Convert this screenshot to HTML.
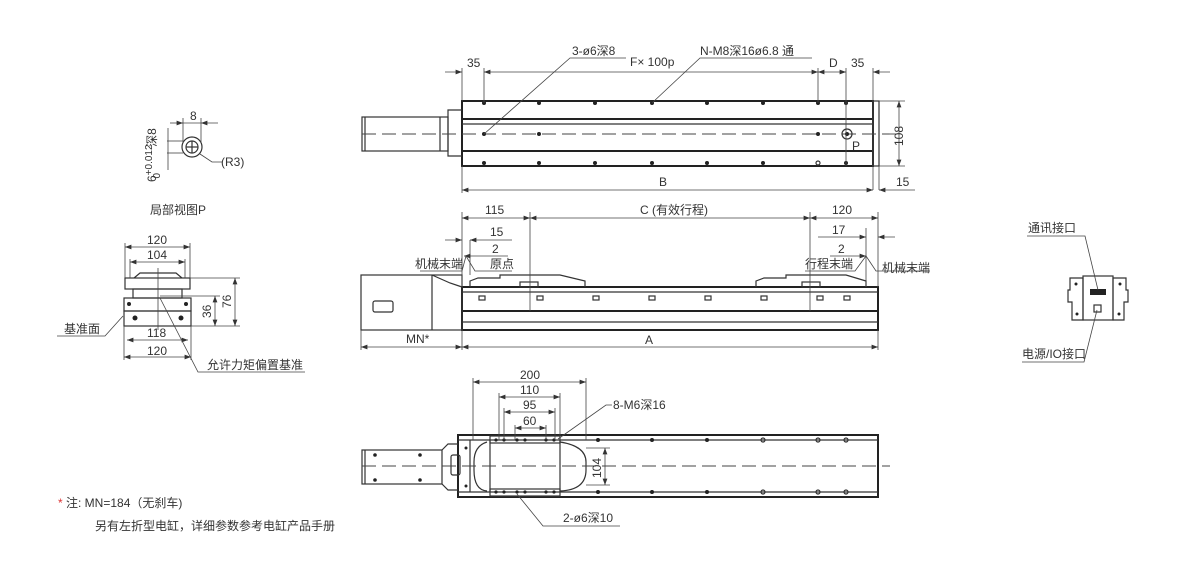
<!DOCTYPE html>
<html><head><meta charset="utf-8"><style>
html,body{margin:0;padding:0;background:#fff}
svg{display:block}
text{font-family:"Liberation Sans","Noto Sans CJK SC",sans-serif;fill:#333;font-size:12px}
.l{stroke:#333;stroke-width:1.2;fill:none}
.t{stroke:#222;stroke-width:2;fill:none}
.d{stroke:#444;stroke-width:.8;fill:none}
.c{stroke:#444;stroke-width:.9;stroke-dasharray:14 6;fill:none}
.h{fill:#222}
</style></head><body>
<svg width="1200" height="563" viewBox="0 0 1200 563" xmlns="http://www.w3.org/2000/svg">
<defs><marker id="a" viewBox="0 0 8 6" refX="8" refY="3" markerWidth="8" markerHeight="6" orient="auto-start-reverse"><path d="M0,0 L8,3 L0,6 z" fill="#333"/></marker></defs>

<!-- ===== TOP VIEW ===== -->
<rect x="462" y="101" width="411" height="65" class="t"/>
<rect x="873" y="101" width="6" height="65" class="l"/>
<line x1="462" y1="119" x2="873" y2="119" class="t"/>
<line x1="462" y1="124" x2="873" y2="124" class="l"/>
<line x1="462" y1="151" x2="873" y2="151" class="t"/>
<path d="M462,110 H448 V156 H462" class="l"/>
<rect x="362" y="117" width="86" height="34" class="l"/>
<line x1="365" y1="117" x2="365" y2="151" class="l"/>
<line x1="440" y1="117" x2="440" y2="151" class="l"/>
<line x1="362" y1="134" x2="900" y2="134" class="c"/>
<g class="h">
<circle cx="484" cy="103" r="2"/><circle cx="539" cy="103" r="2"/><circle cx="595" cy="103" r="2"/><circle cx="652" cy="103" r="2"/><circle cx="707" cy="103" r="2"/><circle cx="763" cy="103" r="2"/><circle cx="818" cy="103" r="2"/><circle cx="846" cy="103" r="2"/>
<circle cx="484" cy="163" r="2"/><circle cx="539" cy="163" r="2"/><circle cx="595" cy="163" r="2"/><circle cx="652" cy="163" r="2"/><circle cx="707" cy="163" r="2"/><circle cx="763" cy="163" r="2"/><circle cx="846" cy="163" r="2"/>
<circle cx="484" cy="134" r="2"/><circle cx="539" cy="134" r="2"/><circle cx="818" cy="134" r="2"/>
</g>
<circle cx="818" cy="163" r="2" class="l"/>
<circle cx="847" cy="134" r="5" class="l"/><circle cx="847" cy="134" r="2" class="h"/>
<text x="852" y="150" font-size="13">P</text>
<line x1="462" y1="68" x2="462" y2="101" class="d"/>
<line x1="484" y1="68" x2="484" y2="103" class="d"/>
<line x1="818" y1="68" x2="818" y2="103" class="d"/>
<line x1="846" y1="68" x2="846" y2="166" class="d"/>
<line x1="873" y1="68" x2="873" y2="190" class="d"/>
<line x1="879" y1="166" x2="879" y2="190" class="d"/>
<line x1="445" y1="72" x2="462" y2="72" class="d" marker-end="url(#a)"/>
<line x1="484" y1="72" x2="818" y2="72" class="d" marker-start="url(#a)" marker-end="url(#a)"/>
<line x1="818" y1="72" x2="846" y2="72" class="d" marker-start="url(#a)" marker-end="url(#a)"/>
<line x1="873" y1="72" x2="890" y2="72" class="d" marker-start="url(#a)"/>
<text x="467" y="67">35</text>
<text x="630" y="66">F× 100p</text>
<text x="829" y="67">D</text>
<text x="851" y="67">35</text>
<path d="M484,134 L570,58 H626" class="d"/>
<text x="572" y="55">3-ø6深8</text>
<path d="M652,103 L700,58 H812" class="d"/>
<text x="700" y="55">N-M8深16ø6.8 通</text>
<line x1="462" y1="166" x2="462" y2="193" class="d"/>
<line x1="462" y1="190" x2="873" y2="190" class="d" marker-start="url(#a)" marker-end="url(#a)"/>
<text x="659" y="186">B</text>
<line x1="879" y1="190" x2="915" y2="190" class="d" marker-start="url(#a)"/>
<text x="896" y="186">15</text>
<line x1="879" y1="101" x2="905" y2="101" class="d"/>
<line x1="879" y1="166" x2="905" y2="166" class="d"/>
<line x1="899" y1="101" x2="899" y2="166" class="d" marker-start="url(#a)" marker-end="url(#a)"/>
<text x="0" y="0" transform="translate(903,146) rotate(-90)">108</text>

<!-- ===== FRONT VIEW ===== -->
<rect x="462" y="287" width="416" height="43" class="t"/>
<line x1="462" y1="292" x2="878" y2="292" class="l"/>
<line x1="462" y1="311" x2="878" y2="311" class="t"/>
<line x1="462" y1="322" x2="878" y2="322" class="l"/>
<rect x="361" y="275" width="101" height="55" class="l"/>
<line x1="432" y1="275" x2="432" y2="330" class="l"/>
<path d="M432,275 L450,283 L462,287" class="l"/>
<rect x="373" y="301" width="20" height="11" rx="2" class="l"/>
<g class="l">
<rect x="479" y="296" width="6" height="4"/><rect x="537" y="296" width="6" height="4"/><rect x="593" y="296" width="6" height="4"/><rect x="649" y="296" width="6" height="4"/><rect x="705" y="296" width="6" height="4"/><rect x="761" y="296" width="6" height="4"/><rect x="817" y="296" width="6" height="4"/><rect x="844" y="296" width="6" height="4"/>
</g>
<path d="M470,287 V281 L478,278 H500 V275 H560 L585,281 V287" class="l"/>
<rect x="520" y="282" width="18" height="5" class="l"/>
<path d="M756,287 V281 L764,278 H786 V275 H846 L866,281 V287" class="l"/>
<rect x="802" y="282" width="18" height="5" class="l"/>
<line x1="462" y1="212" x2="462" y2="287" class="d"/>
<line x1="530" y1="212" x2="530" y2="311" class="d"/>
<line x1="810" y1="212" x2="810" y2="311" class="d"/>
<line x1="878" y1="212" x2="878" y2="287" class="d"/>
<line x1="462" y1="218" x2="530" y2="218" class="d" marker-start="url(#a)" marker-end="url(#a)"/>
<line x1="530" y1="218" x2="810" y2="218" class="d" marker-start="url(#a)" marker-end="url(#a)"/>
<line x1="810" y1="218" x2="878" y2="218" class="d" marker-start="url(#a)" marker-end="url(#a)"/>
<text x="485" y="214">115</text>
<text x="640" y="214">C (有效行程)</text>
<text x="832" y="214">120</text>
<line x1="445" y1="240" x2="462" y2="240" class="d" marker-end="url(#a)"/>
<line x1="470" y1="240" x2="512" y2="240" class="d" marker-start="url(#a)"/>
<line x1="470" y1="240" x2="470" y2="275" class="d"/>
<text x="490" y="236">15</text>
<line x1="464" y1="256" x2="508" y2="256" class="d" marker-start="url(#a)"/>
<text x="492" y="253">2</text>
<path d="M420,271 H462 L466,256 L475,271 H512" class="d"/>
<text x="415" y="268">机械末端</text>
<text x="490" y="268">原点</text>
<line x1="818" y1="237" x2="866" y2="237" class="d" marker-end="url(#a)"/>
<line x1="866" y1="228" x2="866" y2="287" class="d"/>
<line x1="878" y1="237" x2="895" y2="237" class="d" marker-start="url(#a)"/>
<text x="832" y="234">17</text>
<line x1="830" y1="256" x2="866" y2="256" class="d" marker-end="url(#a)"/>
<text x="838" y="253">2</text>
<path d="M805,271 H855 L866,256 L876,271 H930" class="d"/>
<text x="805" y="268">行程末端</text>
<text x="882" y="272">机械末端</text>
<line x1="361" y1="330" x2="361" y2="350" class="d"/>
<line x1="462" y1="330" x2="462" y2="350" class="d"/>
<line x1="878" y1="330" x2="878" y2="350" class="d"/>
<line x1="361" y1="347" x2="462" y2="347" class="d" marker-start="url(#a)" marker-end="url(#a)"/>
<line x1="462" y1="347" x2="878" y2="347" class="d" marker-start="url(#a)" marker-end="url(#a)"/>
<text x="406" y="343">MN*</text>
<text x="645" y="344">A</text>

<!-- ===== BOTTOM VIEW ===== -->
<rect x="458" y="435" width="420" height="62" class="t"/>
<line x1="458" y1="440" x2="878" y2="440" class="l"/>
<line x1="458" y1="492" x2="878" y2="492" class="l"/>
<rect x="362" y="450" width="80" height="34" class="l"/>
<line x1="365" y1="450" x2="365" y2="484" class="l"/>
<path d="M442,450 L448,444 H458 M442,484 L448,490 H458" class="l"/>
<rect x="451" y="455" width="9" height="20" rx="2" class="l"/>
<line x1="470" y1="440" x2="470" y2="492" class="l"/>
<path d="M487,442 Q474,446 474,462 V470 Q474,490 487,491" class="l"/>
<line x1="490" y1="440" x2="490" y2="492" class="l"/>
<line x1="560" y1="440" x2="560" y2="492" class="l"/>
<path d="M560,442 Q586,446 586,462 V470 Q586,490 560,491" class="l"/>
<rect x="490" y="436" width="70" height="7" class="l"/>
<rect x="490" y="489" width="70" height="7" class="l"/>
<line x1="362" y1="466" x2="890" y2="466" class="c"/>
<g class="h">
<circle cx="496" cy="440" r="1.6"/><circle cx="504" cy="440" r="1.6"/><circle cx="517" cy="440" r="1.6"/><circle cx="525" cy="440" r="1.6"/><circle cx="546" cy="440" r="1.6"/><circle cx="554" cy="440" r="1.6"/>
<circle cx="496" cy="492" r="1.6"/><circle cx="504" cy="492" r="1.6"/><circle cx="517" cy="492" r="1.6"/><circle cx="525" cy="492" r="1.6"/><circle cx="546" cy="492" r="1.6"/><circle cx="554" cy="492" r="1.6"/>
<circle cx="598" cy="440" r="2"/><circle cx="652" cy="440" r="2"/><circle cx="707" cy="440" r="2"/><circle cx="598" cy="492" r="2"/><circle cx="652" cy="492" r="2"/><circle cx="707" cy="492" r="2"/>
<circle cx="375" cy="455" r="1.8"/><circle cx="375" cy="480" r="1.8"/><circle cx="420" cy="455" r="1.8"/><circle cx="420" cy="480" r="1.8"/>
<circle cx="466" cy="448" r="1.5"/><circle cx="466" cy="486" r="1.5"/>
</g>
<g class="l"><circle cx="763" cy="440" r="2"/><circle cx="818" cy="440" r="2"/><circle cx="846" cy="440" r="2"/><circle cx="763" cy="492" r="2"/><circle cx="818" cy="492" r="2"/><circle cx="846" cy="492" r="2"/></g>
<line x1="473" y1="378" x2="473" y2="440" class="d"/>
<line x1="586" y1="378" x2="586" y2="440" class="d"/>
<line x1="499" y1="393" x2="499" y2="440" class="d"/>
<line x1="560" y1="393" x2="560" y2="440" class="d"/>
<line x1="504" y1="408" x2="504" y2="440" class="d"/>
<line x1="555" y1="408" x2="555" y2="440" class="d"/>
<line x1="515" y1="425" x2="515" y2="440" class="d"/>
<line x1="546" y1="425" x2="546" y2="440" class="d"/>
<line x1="473" y1="382" x2="586" y2="382" class="d" marker-start="url(#a)" marker-end="url(#a)"/>
<line x1="499" y1="397" x2="560" y2="397" class="d" marker-start="url(#a)" marker-end="url(#a)"/>
<line x1="504" y1="412" x2="555" y2="412" class="d" marker-start="url(#a)" marker-end="url(#a)"/>
<line x1="515" y1="428" x2="546" y2="428" class="d" marker-start="url(#a)" marker-end="url(#a)"/>
<text x="520" y="379">200</text>
<text x="520" y="394">110</text>
<text x="523" y="409">95</text>
<text x="523" y="425">60</text>
<path d="M558,439 L606,405 H612" class="d"/>
<text x="613" y="409">8-M6深16</text>
<line x1="586" y1="448" x2="610" y2="448" class="d"/>
<line x1="586" y1="485" x2="610" y2="485" class="d"/>
<line x1="605" y1="448" x2="605" y2="485" class="d" marker-start="url(#a)" marker-end="url(#a)"/>
<text x="0" y="0" transform="translate(601,478) rotate(-90)">104</text>
<path d="M517,494 L543,526 H620" class="d"/>
<text x="563" y="522">2-ø6深10</text>

<!-- ===== DETAIL P ===== -->
<circle cx="192" cy="147" r="10" class="l"/>
<circle cx="192" cy="147" r="6" class="l"/>
<line x1="186" y1="147" x2="198" y2="147" class="l"/>
<line x1="192" y1="141" x2="192" y2="153" class="l"/>
<line x1="183" y1="118" x2="183" y2="143" class="d"/>
<line x1="201" y1="118" x2="201" y2="143" class="d"/>
<line x1="170" y1="123" x2="183" y2="123" class="d" marker-end="url(#a)"/>
<line x1="201" y1="123" x2="218" y2="123" class="d" marker-start="url(#a)"/>
<line x1="183" y1="123" x2="201" y2="123" class="d"/>
<text x="190" y="120">8</text>
<line x1="167" y1="141" x2="183" y2="141" class="d"/>
<line x1="167" y1="153" x2="183" y2="153" class="d"/>
<line x1="168" y1="128" x2="168" y2="170" class="d"/>
<text x="0" y="0" transform="translate(156,182) rotate(-90)" font-size="12">6<tspan dy="-4" font-size="10">+0.012</tspan><tspan dx="-34" dy="8" font-size="10">0</tspan><tspan dx="26" dy="-4">深8</tspan></text>
<path d="M200,154 L212,162 H222" class="d"/>
<text x="221" y="166" font-size="13">(R3)</text>
<text x="150" y="214">局部视图P</text>

<!-- ===== END VIEW ===== -->
<rect x="125" y="278" width="65" height="11" class="l"/>
<path d="M134,278 L140,273 H176 L182,278" class="l"/>
<rect x="133" y="289" width="49" height="9" class="l"/>
<rect x="124" y="298" width="67" height="13" class="l"/>
<rect x="124" y="311" width="67" height="15" class="l"/>
<line x1="124" y1="326" x2="124" y2="360" class="d"/>
<line x1="191" y1="326" x2="191" y2="360" class="d"/>
<circle cx="129" cy="304" r="2" class="h"/><circle cx="186" cy="304" r="2" class="h"/>
<circle cx="135" cy="318" r="2.5" class="h"/><circle cx="181" cy="318" r="2.5" class="h"/>
<line x1="158" y1="268" x2="158" y2="330" class="d"/>
<line x1="125" y1="243" x2="125" y2="278" class="d"/><line x1="190" y1="243" x2="190" y2="278" class="d"/>
<line x1="130" y1="259" x2="130" y2="278" class="d"/><line x1="185" y1="259" x2="185" y2="278" class="d"/>
<line x1="125" y1="247" x2="190" y2="247" class="d" marker-start="url(#a)" marker-end="url(#a)"/>
<line x1="130" y1="262" x2="185" y2="262" class="d" marker-start="url(#a)" marker-end="url(#a)"/>
<text x="147" y="244">120</text>
<text x="147" y="259">104</text>
<line x1="127" y1="340" x2="188" y2="340" class="d" marker-start="url(#a)" marker-end="url(#a)"/>
<line x1="124" y1="357" x2="191" y2="357" class="d" marker-start="url(#a)" marker-end="url(#a)"/>
<text x="147" y="337">118</text>
<text x="147" y="355">120</text>
<line x1="160" y1="296" x2="220" y2="296" class="d"/>
<line x1="190" y1="278" x2="240" y2="278" class="d"/>
<line x1="191" y1="326" x2="240" y2="326" class="d"/>
<line x1="215" y1="296" x2="215" y2="326" class="d" marker-start="url(#a)" marker-end="url(#a)"/>
<line x1="235" y1="278" x2="235" y2="326" class="d" marker-start="url(#a)" marker-end="url(#a)"/>
<text x="0" y="0" transform="translate(211,318) rotate(-90)">36</text>
<text x="0" y="0" transform="translate(231,308) rotate(-90)">76</text>
<path d="M123,316 L105,336 H57" class="d"/>
<text x="64" y="333">基准面</text>
<path d="M160,298 L198,372 H305" class="d"/>
<text x="207" y="369">允许力矩偏置基准</text>

<!-- ===== SIDE DEVICE ===== -->
<rect x="1083" y="276" width="30" height="44" class="l"/>
<path d="M1070,278 H1083 V320 H1072 V302 H1068 V290 H1070 Z" class="l"/>
<path d="M1126,278 H1113 V320 H1124 V302 H1128 V290 H1126 Z" class="l"/>
<rect x="1090" y="289" width="16" height="6" class="h"/>
<rect x="1094" y="305" width="7" height="7" class="l"/>
<circle cx="1076" cy="284" r="1.5" class="h"/><circle cx="1120" cy="284" r="1.5" class="h"/>
<circle cx="1077" cy="314" r="1.5" class="h"/><circle cx="1119" cy="314" r="1.5" class="h"/>
<path d="M1027,236 H1085 L1098,290" class="d"/>
<text x="1028" y="232">通讯接口</text>
<path d="M1022,362 H1084 L1097,310" class="d"/>
<text x="1022" y="358">电源/IO接口</text>

<!-- ===== NOTE ===== -->
<text x="58" y="507"><tspan fill="#d33">*</tspan> 注:  MN=184（无刹车)</text>
<text x="95" y="530">另有左折型电缸，详细参数参考电缸产品手册</text>
</svg>
</body></html>
